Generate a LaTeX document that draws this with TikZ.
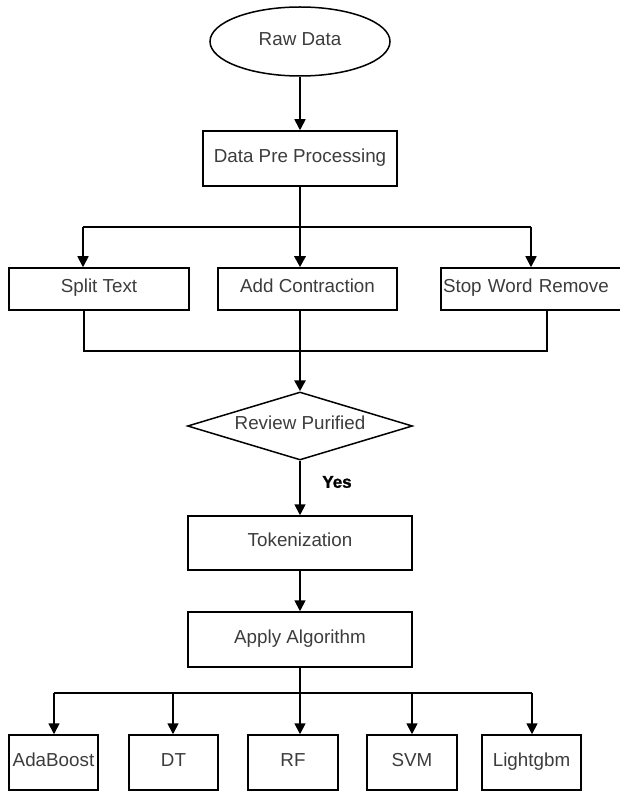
\documentclass[tikz,border=0pt]{standalone}
\usepackage{fontspec}
\setmainfont{Liberation Sans}
\newfontfamily\yesfont[FakeBold=1.2]{Liberation Sans Bold}
\usetikzlibrary{shapes.geometric,arrows.meta}
\definecolor{txt}{RGB}{60,60,60}
\tikzset{
  box/.style={draw=black, line width=1.5pt, rectangle, inner sep=0pt,
    text=txt, font=\fontsize{18.8}{22}\selectfont,
    text height=0.72em, text depth=0pt},
  conn/.style={draw=black, line width=1.7pt},
  merge/.style={draw=black, line width=2.3pt},
  trunk/.style={draw=black, line width=2.9pt},
  tip/.style={-{Triangle[width=11pt,length=11pt]}},
}
\begin{document}
\begin{tikzpicture}[x=1pt,y=-1pt]
\useasboundingbox (0,0) rectangle (619,791);

% start
\node[box, ellipse, minimum width=180pt, minimum height=69pt] (raw) at (300,41.5) {Raw Data};
\node[box, minimum width=194pt, minimum height=55pt] (dpp) at (300,158.5) {Data Pre Processing};

% pre-processing steps
\node[box, minimum width=180pt, minimum height=42pt] (split) at (99,289) {Split Text};
\node[box, minimum width=179pt, minimum height=42pt] (addc) at (307.5,289) {Add Contraction};
\node[box, minimum width=180pt, minimum height=42pt, text width=176pt, align=left] (stopw) at (531,289) {Stop Word Remove};

% decision
\node[box, diamond, aspect=3.3, minimum width=225pt, minimum height=68pt] (rev) at (300,426) {Review Purified};
\node[text=black, font=\yesfont\fontsize{17}{20}\selectfont] (yes) at (337,482) {Yes};

\node[box, minimum width=224pt, minimum height=54pt] (tok) at (300,543) {Tokenization};
\node[box, minimum width=224pt, minimum height=55pt] (apply) at (300,639.5) {Apply Algorithm};

% classifiers
\node[box, minimum width=89pt, minimum height=55pt] (ada) at (53.5,762.5) {AdaBoost};
\node[box, minimum width=89pt, minimum height=55pt] (dt) at (173.5,762.5) {DT};
\node[box, minimum width=90pt, minimum height=55pt] (rf) at (293,762.5) {RF};
\node[box, minimum width=90pt, minimum height=55pt] (svm) at (412,762.5) {SVM};
\node[box, minimum width=99pt, minimum height=55pt] (lgb) at (531.5,762.5) {Lightgbm};

% junction points
\coordinate (bL) at (83,227);
\coordinate (bC) at (300,227);
\coordinate (bR) at (531,227);
\coordinate (mL) at (84,351);
\coordinate (mC) at (300,351);
\coordinate (mR) at (547,351);
\coordinate (aC) at (300,693);
\coordinate (a1) at (54,693);
\coordinate (a2) at (173,693);
\coordinate (a4) at (412,693);
\coordinate (a5) at (532,693);

% connectors
\draw[conn, tip] (raw.south) -- (dpp.north);
\draw[conn] (bL) -- (bR);
\draw[trunk, tip] (dpp.south) -- (bC) -- (bC |- addc.north);
\draw[conn, tip] (bL) -- (bL |- split.north);
\draw[conn, tip] (bR) -- (bR |- stopw.north);

\draw[merge] (mL |- split.south) -- (mL) -- (mR) -- (mR |- stopw.south);
\draw[trunk, tip] (mC |- addc.south) -- (mC) -- (rev.north);

\draw[conn, tip] (rev.south) -- (tok.north);
\draw[conn, tip] (tok.south) -- (apply.north);

\draw[conn] (apply.south) -- (aC);
\draw[conn] (a1) -- (a5);
\draw[conn, tip] (a1) -- (a1 |- ada.north);
\draw[conn, tip] (a2) -- (a2 |- dt.north);
\draw[conn, tip] (aC) -- (aC |- rf.north);
\draw[conn, tip] (a4) -- (a4 |- svm.north);
\draw[conn, tip] (a5) -- (a5 |- lgb.north);
\end{tikzpicture}
\end{document}
